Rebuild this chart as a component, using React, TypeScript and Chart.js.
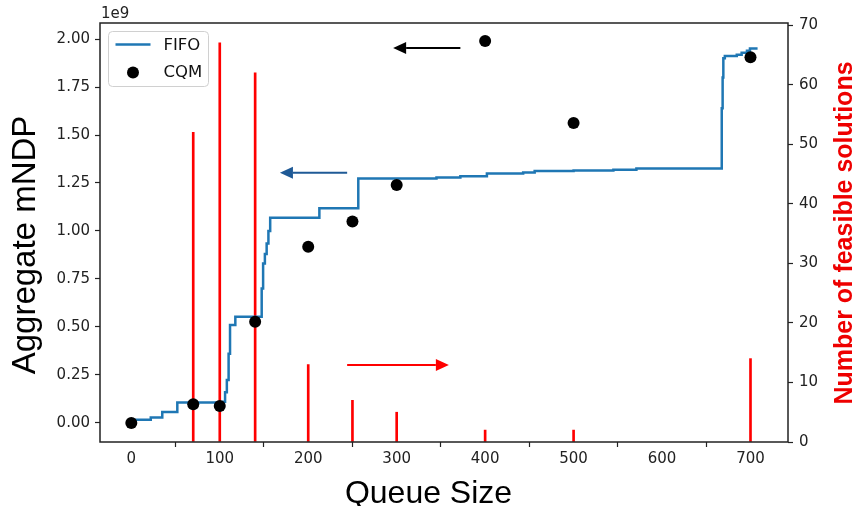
import React, { useEffect, useRef } from 'react';
import { Chart, registerables } from 'chart.js';

Chart.register(...registerables);

// ---- axis ranges & ticks ----
const X_MIN = -35.4;
const X_MAX = 742.4;
const Y_MIN = -0.0993e9;
const Y_MAX = 2.0835e9;
const Y2_MIN = 0;
const Y2_MAX = 70.35;
const xTicks = [0, 100, 200, 300, 400, 500, 600, 700];
const yTicks = [0, 0.25e9, 0.5e9, 0.75e9, 1.0e9, 1.25e9, 1.5e9, 1.75e9, 2.0e9];
const y2Ticks = [0, 10, 20, 30, 40, 50, 60, 70];

// ---- FIFO (step line) ----
const fifoX = [0, 22, 35, 52, 104, 106, 108, 110, 111.6, 117.6, 147.4, 149, 151, 153, 155, 157, 212.6, 256.6, 345, 372, 402, 443, 456, 500, 545, 571, 667.5, 668.5, 669.3, 671, 684.5, 690, 696, 699.4, 708];
const fifoY = [0.016, 0.028, 0.057, 0.106, 0.11, 0.16, 0.224, 0.36, 0.51, 0.553, 0.70, 0.83, 0.88, 0.935, 1.0, 1.069, 1.118, 1.274, 1.279, 1.285, 1.30, 1.305, 1.312, 1.315, 1.319, 1.326, 1.64, 1.80, 1.90, 1.911, 1.918, 1.929, 1.939, 1.951, 1.951];

// ---- CQM (points) ----
const cqmX = [0, 70, 100, 140, 200, 250, 300, 400, 500, 700];
const cqmY = [0.0, 0.097, 0.088, 0.527, 0.918, 1.05, 1.24, 1.99, 1.562, 1.905];

// ---- number of feasible solutions (red vertical lines, right axis) ----
const feasibleX = [70, 100, 140, 200, 250, 300, 400, 500, 700];
const feasibleCount = [52, 67, 62, 13, 7, 5, 2, 2, 14];

// ---- arrows (data coordinates, left axis) ----
const arrowTailX = [372, 244, 244];
const arrowTipX = [296, 168, 359];
const arrowY = [1.953, 1.303, 0.302];
const arrowColors = ['#000000', '#1f5a96', '#ff0000'];

const BLUE = '#1f77b4';
const RED = '#ff0000';
const TICK_FONT = { family: '"DejaVu Sans"', size: 15 };

function drawArrow(ctx: CanvasRenderingContext2D, x1: number, y: number, x2: number, color: string) {
  const dir = x2 > x1 ? 1 : -1;
  const headLen = 13;
  const headHalf = 6;
  ctx.save();
  ctx.strokeStyle = color;
  ctx.fillStyle = color;
  ctx.lineWidth = 2;
  ctx.beginPath();
  ctx.moveTo(x1, y);
  ctx.lineTo(x2 - dir * headLen, y);
  ctx.stroke();
  ctx.beginPath();
  ctx.moveTo(x2, y);
  ctx.lineTo(x2 - dir * headLen, y - headHalf);
  ctx.lineTo(x2 - dir * headLen, y + headHalf);
  ctx.closePath();
  ctx.fill();
  ctx.restore();
}

const decorPlugin = {
  id: 'decor',
  afterDraw(chart: any) {
    const ctx: CanvasRenderingContext2D = chart.ctx;
    const { left, right, top, bottom } = chart.chartArea;
    const xs = chart.scales.x;
    const ys = chart.scales.y;

    // frame
    ctx.save();
    ctx.strokeStyle = '#222';
    ctx.lineWidth = 1.5;
    ctx.strokeRect(left, top, right - left, bottom - top);
    ctx.restore();

    // arrows
    for (let i = 0; i < arrowTailX.length; i++) {
      drawArrow(
        ctx,
        xs.getPixelForValue(arrowTailX[i]),
        ys.getPixelForValue(arrowY[i] * 1e9),
        xs.getPixelForValue(arrowTipX[i]),
        arrowColors[i]
      );
    }

    // legend
    ctx.save();
    const lx = left + 8.5;
    const ly = top + 8.5;
    ctx.beginPath();
    (ctx as any).roundRect(lx, ly, 100, 55, 4);
    ctx.fillStyle = 'rgba(255,255,255,0.85)';
    ctx.fill();
    ctx.strokeStyle = '#d0d0d0';
    ctx.lineWidth = 1;
    ctx.stroke();
    ctx.strokeStyle = BLUE;
    ctx.lineWidth = 2.5;
    ctx.beginPath();
    ctx.moveTo(lx + 7, ly + 13);
    ctx.lineTo(lx + 42, ly + 13);
    ctx.stroke();
    ctx.fillStyle = '#000';
    ctx.beginPath();
    ctx.arc(lx + 24.5, ly + 41, 6, 0, Math.PI * 2);
    ctx.fill();
    ctx.font = '16.5px "DejaVu Sans"';
    ctx.textBaseline = 'middle';
    ctx.textAlign = 'left';
    ctx.fillStyle = '#111';
    ctx.fillText('FIFO', lx + 55, ly + 14);
    ctx.fillText('CQM', lx + 55, ly + 41);
    ctx.restore();

    // offset text
    ctx.save();
    ctx.font = '15px "DejaVu Sans"';
    ctx.fillStyle = '#222';
    ctx.textBaseline = 'alphabetic';
    ctx.textAlign = 'left';
    ctx.fillText('1e9', left + 1, 18);
    ctx.restore();

    // axis titles
    ctx.save();
    ctx.fillStyle = '#000';
    ctx.font = '32px "Liberation Sans"';
    ctx.textAlign = 'center';
    ctx.textBaseline = 'alphabetic';
    ctx.fillText('Queue Size', 428.5, 503);
    ctx.restore();

    ctx.save();
    ctx.translate(35, 245);
    ctx.rotate(-Math.PI / 2);
    ctx.fillStyle = '#000';
    ctx.font = '33px "Liberation Sans"';
    ctx.textAlign = 'center';
    ctx.textBaseline = 'alphabetic';
    ctx.fillText('Aggregate mNDP', 0, 0);
    ctx.restore();

    ctx.save();
    ctx.translate(852, 233);
    ctx.rotate(-Math.PI / 2);
    ctx.fillStyle = '#ee0000';
    ctx.font = 'bold 25px "Liberation Sans"';
    ctx.textAlign = 'center';
    ctx.textBaseline = 'alphabetic';
    ctx.fillText('Number of feasible solutions', 0, 0);
    ctx.restore();
  },
};

export default function App() {
  const ref = useRef<HTMLCanvasElement>(null);

  useEffect(() => {
    const fifoData = fifoX.map((x, i) => ({ x, y: fifoY[i] * 1e9 }));
    const cqmData = cqmX.map((x, i) => ({ x, y: cqmY[i] * 1e9 }));
    const feasData = feasibleX.map((x, i) => ({ x, y: feasibleCount[i] }));

    const tickGrid = {
      display: true,
      drawOnChartArea: false,
      drawTicks: true,
      tickLength: 5,
      tickColor: '#222',
      tickWidth: 1.2,
      color: '#222',
    };

    const chart = new Chart(ref.current as HTMLCanvasElement, {
      type: 'line',
      data: {
        datasets: [
          {
            type: 'bar',
            label: 'Feasible',
            data: feasData as any,
            yAxisID: 'y2',
            xAxisID: 'x',
            backgroundColor: RED,
            borderWidth: 0,
            barThickness: 2,
            order: 3,
          } as any,
          {
            type: 'line',
            label: 'FIFO',
            data: fifoData as any,
            yAxisID: 'y',
            borderColor: BLUE,
            borderWidth: 2.5,
            stepped: 'before',
            pointRadius: 0,
            fill: false,
            order: 2,
          } as any,
          {
            type: 'line',
            label: 'CQM',
            data: cqmData as any,
            yAxisID: 'y',
            showLine: false,
            pointRadius: 6,
            pointBackgroundColor: '#000',
            pointBorderWidth: 0,
            pointBorderColor: '#000',
            order: 1,
          } as any,
        ],
      },
      options: {
        responsive: false,
        animation: false,
        layout: { padding: { top: 23, left: 0, right: 0, bottom: 0 } },
        plugins: {
          legend: { display: false },
          tooltip: { enabled: false },
          title: { display: false },
        },
        scales: {
          x: {
            type: 'linear',
            position: 'bottom',
            min: X_MIN,
            max: X_MAX,
            offset: false,
            grid: tickGrid as any,
            border: { display: false },
            ticks: { font: TICK_FONT, color: '#222', padding: 3, maxRotation: 0, autoSkip: false },
            afterBuildTicks: (s: any) => {
              s.ticks = xTicks.map((v) => ({ value: v }));
            },
            afterFit: (s: any) => {
              s.height = 64;
            },
          },
          y: {
            type: 'linear',
            position: 'left',
            min: Y_MIN,
            max: Y_MAX,
            grid: tickGrid as any,
            border: { display: false },
            ticks: {
              font: TICK_FONT,
              color: '#222',
              padding: 5,
              callback: (v: any) => (Number(v) / 1e9).toFixed(2),
            },
            afterBuildTicks: (s: any) => {
              s.ticks = yTicks.map((v) => ({ value: v }));
            },
            afterFit: (s: any) => {
              s.width = 100;
            },
          },
          y2: {
            type: 'linear',
            position: 'right',
            min: Y2_MIN,
            max: Y2_MAX,
            grid: tickGrid as any,
            border: { display: false },
            ticks: { font: TICK_FONT, color: '#222', padding: 6 },
            afterBuildTicks: (s: any) => {
              s.ticks = y2Ticks.map((v) => ({ value: v }));
            },
            afterFit: (s: any) => {
              s.width = 66;
            },
          },
        },
      } as any,
      plugins: [decorPlugin as any],
    });

    return () => chart.destroy();
  }, []);

  return (
    <div style={{ position: 'fixed', left: 0, top: 0, width: 854, height: 506, background: '#fff' }}>
      <canvas ref={ref} width={854} height={506} style={{ display: 'block', width: 854, height: 506 }} />
    </div>
  );
}
